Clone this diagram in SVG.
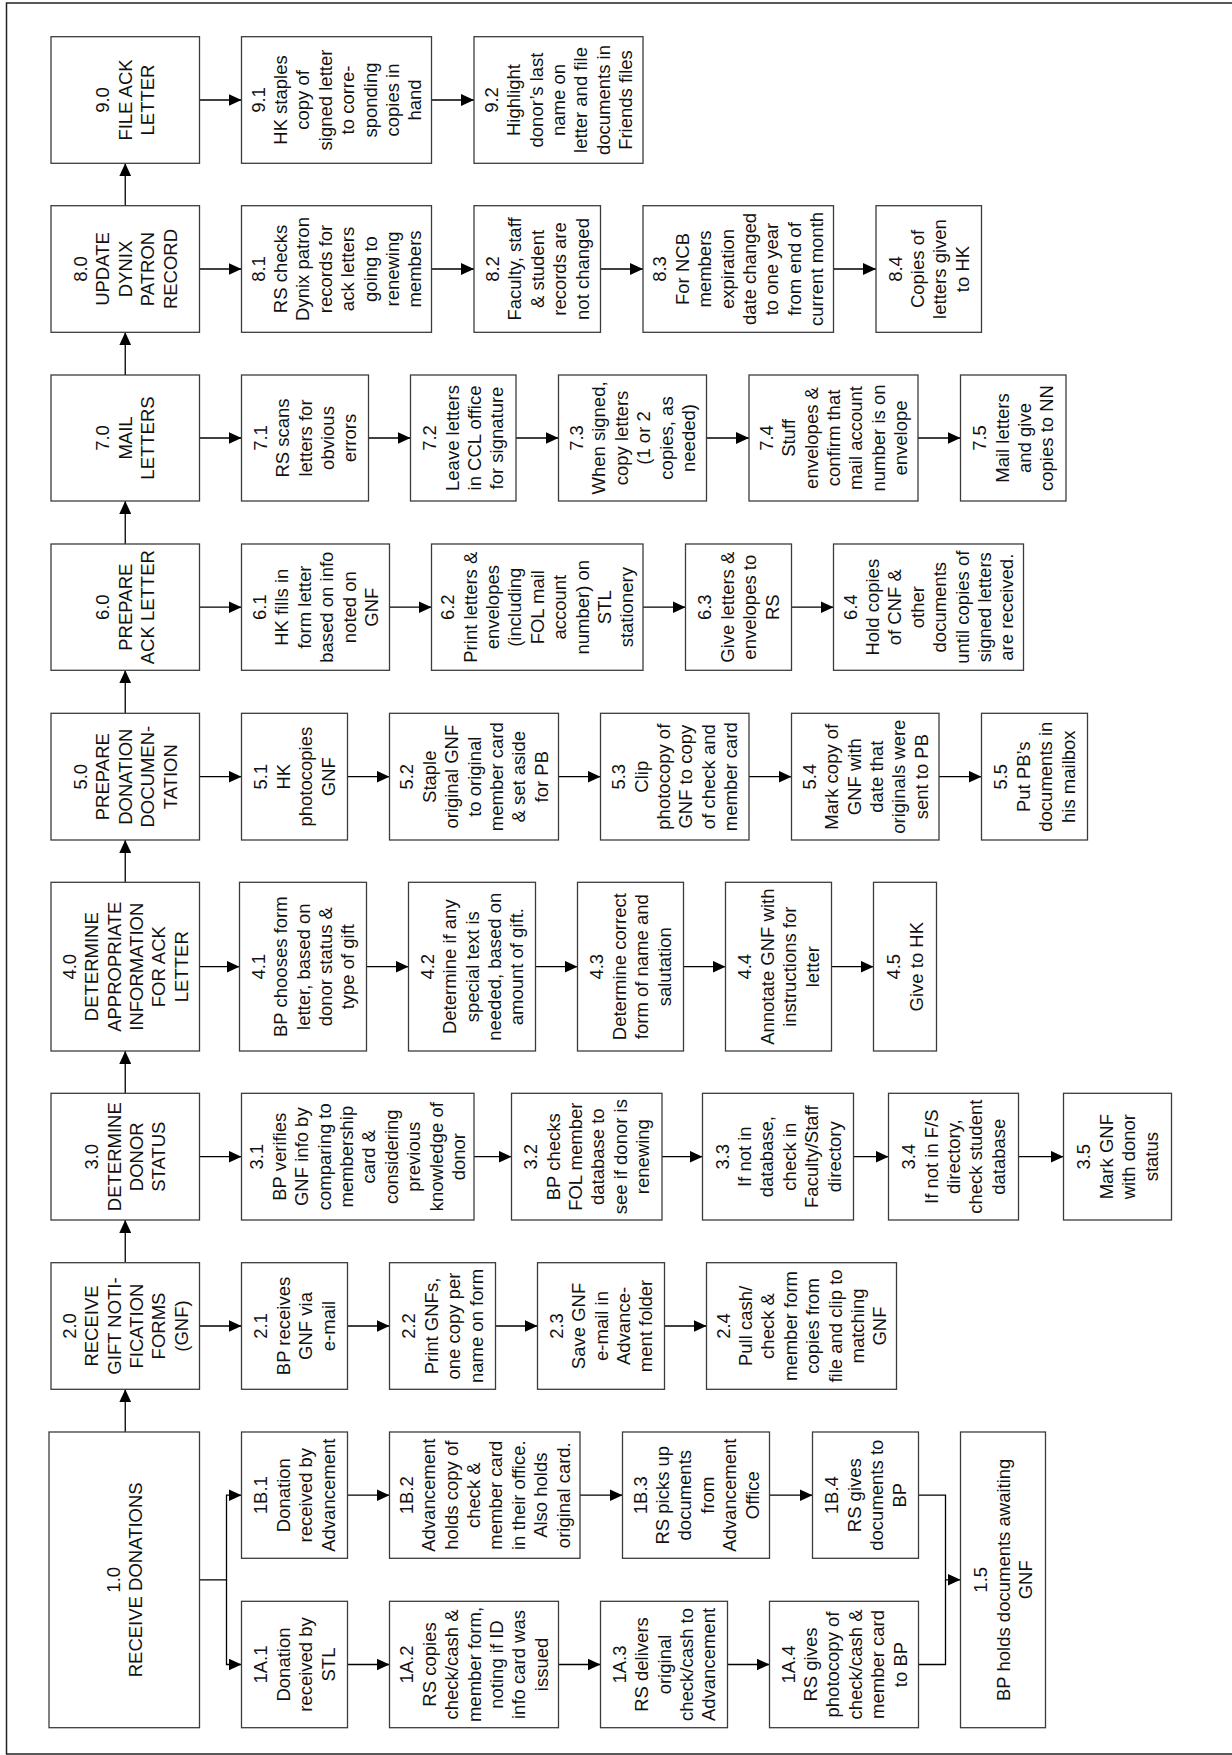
<svg xmlns="http://www.w3.org/2000/svg" width="1232" height="1755" viewBox="0 0 1232 1755">
<style>
.box{fill:#fff;stroke:#3c3c3c;stroke-width:1.3}
.t{font-family:"Liberation Sans",Arial,sans-serif;font-size:18.5px;fill:#111;text-anchor:middle}
.c{fill:none;stroke:#000;stroke-width:1.3}
.a{marker-end:url(#ah)}
</style>
<defs>
<marker id="ah" markerUnits="userSpaceOnUse" markerWidth="13" markerHeight="12" refX="13" refY="6" orient="auto"><path d="M0,0 L13,6 L0,12 z" fill="#000"/></marker>
</defs>
<rect x="6.5" y="3" width="1240" height="1751" fill="#fff" stroke="#222" stroke-width="1.5"/>

<g id="connectors">
<path class="c a" d="M125.25,205.7 V163.3"/>
<path class="c a" d="M125.25,375 V332.3"/>
<path class="c a" d="M125.25,544 V501"/>
<path class="c a" d="M125.25,713.3 V670.3"/>
<path class="c a" d="M125.25,882.3 V840"/>
<path class="c a" d="M125.25,1093.3 V1051"/>
<path class="c a" d="M125.25,1262.7 V1220"/>
<path class="c a" d="M125.25,1432 V1389.3"/>
<!-- row 9 -->
<path class="c a" d="M199.5,100 H241.5"/>
<path class="c a" d="M431.5,100 H474"/>
<!-- row 8 -->
<path class="c a" d="M199.5,269 H241.5"/>
<path class="c a" d="M431.5,269 H474"/>
<path class="c a" d="M600.5,269 H643"/>
<path class="c a" d="M833.5,269 H876"/>
<!-- row 7 -->
<path class="c a" d="M199.5,438 H241.5"/>
<path class="c a" d="M368.5,438 H410.5"/>
<path class="c a" d="M516,438 H558.5"/>
<path class="c a" d="M706.5,438 H749"/>
<path class="c a" d="M918,438 H960.5"/>
<!-- row 6 -->
<path class="c a" d="M199.5,607.2 H241.5"/>
<path class="c a" d="M389.5,607.2 H431.5"/>
<path class="c a" d="M643,607.2 H685.5"/>
<path class="c a" d="M791.5,607.2 H833.5"/>
<!-- row 5 -->
<path class="c a" d="M199.5,776.7 H241.5"/>
<path class="c a" d="M347.5,776.7 H389.5"/>
<path class="c a" d="M558.5,776.7 H600.5"/>
<path class="c a" d="M749,776.7 H791.5"/>
<path class="c a" d="M939,776.7 H981.5"/>
<!-- row 4 -->
<path class="c a" d="M199.5,966.7 H239.5"/>
<path class="c a" d="M366.5,966.7 H408.5"/>
<path class="c a" d="M535.5,966.7 H577.5"/>
<path class="c a" d="M683.5,966.7 H725.5"/>
<path class="c a" d="M831.5,966.7 H873.5"/>
<!-- row 3 -->
<path class="c a" d="M199.5,1156.7 H241.5"/>
<path class="c a" d="M474,1156.7 H511.5"/>
<path class="c a" d="M662,1156.7 H702.5"/>
<path class="c a" d="M853.5,1156.7 H888.5"/>
<path class="c a" d="M1018.5,1156.7 H1063.5"/>
<!-- row 2 -->
<path class="c a" d="M199.5,1326 H241.5"/>
<path class="c a" d="M347.5,1326 H389.5"/>
<path class="c a" d="M495.5,1326 H537.5"/>
<path class="c a" d="M664.5,1326 H706.5"/>
<!-- row 1 -->
<path class="c a" d="M199.5,1579.8 H226.5 V1495.2 H241.5"/>
<path class="c a" d="M226.5,1579.8 V1664.5 H241.5"/>
<path class="c a" d="M347.5,1495.2 H389.5"/>
<path class="c a" d="M580,1495.2 H622.5"/>
<path class="c a" d="M769.5,1495.2 H812.5"/>
<path class="c a" d="M347.5,1664.5 H389.5"/>
<path class="c a" d="M558.5,1664.5 H600.5"/>
<path class="c a" d="M727.5,1664.5 H769.5"/>
<path class="c a" d="M918.5,1495.2 H945.5 V1579.8 H960.5"/>
<path class="c" d="M918.5,1664.5 H945.5 V1579.8"/>
</g>

<!-- Row 9 -->
<g id="n9_0"><rect class="box" x="51" y="36.7" width="148.5" height="126.6"/>
<text class="t" transform="translate(125.25,100) rotate(-90)"><tspan x="0" y="-15.9">9.0</tspan><tspan x="0" dy="22.4">FILE ACK</tspan><tspan x="0" dy="22.4">LETTER</tspan></text></g>
<g id="n9_1"><rect class="box" x="241.5" y="36.7" width="190" height="126.6"/>
<text class="t" transform="translate(336.5,100) rotate(-90)"><tspan x="0" y="-71.9">9.1</tspan><tspan x="0" dy="22.4">HK staples</tspan><tspan x="0" dy="22.4">copy of</tspan><tspan x="0" dy="22.4">signed letter</tspan><tspan x="0" dy="22.4">to corre-</tspan><tspan x="0" dy="22.4">sponding</tspan><tspan x="0" dy="22.4">copies in</tspan><tspan x="0" dy="22.4">hand</tspan></text></g>
<g id="n9_2"><rect class="box" x="474" y="36.7" width="169" height="126.6"/>
<text class="t" transform="translate(558.5,100) rotate(-90)"><tspan x="0" y="-60.7">9.2</tspan><tspan x="0" dy="22.4">Highlight</tspan><tspan x="0" dy="22.4">donor’s last</tspan><tspan x="0" dy="22.4">name on</tspan><tspan x="0" dy="22.4">letter and file</tspan><tspan x="0" dy="22.4">documents in</tspan><tspan x="0" dy="22.4">Friends files</tspan></text></g>

<!-- Row 8 -->
<g id="n8_0"><rect class="box" x="51" y="205.7" width="148.5" height="126.6"/>
<text class="t" transform="translate(125.25,269) rotate(-90)"><tspan x="0" y="-38.3">8.0</tspan><tspan x="0" dy="22.4">UPDATE</tspan><tspan x="0" dy="22.4">DYNIX</tspan><tspan x="0" dy="22.4">PATRON</tspan><tspan x="0" dy="22.4">RECORD</tspan></text></g>
<g id="n8_1"><rect class="box" x="241.5" y="205.7" width="190" height="126.6"/>
<text class="t" transform="translate(336.5,269) rotate(-90)"><tspan x="0" y="-71.9">8.1</tspan><tspan x="0" dy="22.4">RS checks</tspan><tspan x="0" dy="22.4">Dynix patron</tspan><tspan x="0" dy="22.4">records for</tspan><tspan x="0" dy="22.4">ack letters</tspan><tspan x="0" dy="22.4">going to</tspan><tspan x="0" dy="22.4">renewing</tspan><tspan x="0" dy="22.4">members</tspan></text></g>
<g id="n8_2"><rect class="box" x="474" y="205.7" width="126.5" height="126.6"/>
<text class="t" transform="translate(537.25,269) rotate(-90)"><tspan x="0" y="-38.3">8.2</tspan><tspan x="0" dy="22.4">Faculty, staff</tspan><tspan x="0" dy="22.4">&amp; student</tspan><tspan x="0" dy="22.4">records are</tspan><tspan x="0" dy="22.4">not changed</tspan></text></g>
<g id="n8_3"><rect class="box" x="643" y="205.7" width="190.5" height="126.6"/>
<text class="t" transform="translate(738.25,269) rotate(-90)"><tspan x="0" y="-71.9">8.3</tspan><tspan x="0" dy="22.4">For NCB</tspan><tspan x="0" dy="22.4">members</tspan><tspan x="0" dy="22.4">expiration</tspan><tspan x="0" dy="22.4">date changed</tspan><tspan x="0" dy="22.4">to one year</tspan><tspan x="0" dy="22.4">from end of</tspan><tspan x="0" dy="22.4">current month</tspan></text></g>
<g id="n8_4"><rect class="box" x="876" y="205.7" width="105.5" height="126.6"/>
<text class="t" transform="translate(928.75,269) rotate(-90)"><tspan x="0" y="-27.1">8.4</tspan><tspan x="0" dy="22.4">Copies of</tspan><tspan x="0" dy="22.4">letters given</tspan><tspan x="0" dy="22.4">to HK</tspan></text></g>

<!-- Row 7 -->
<g id="n7_0"><rect class="box" x="51" y="375" width="148.5" height="126"/>
<text class="t" transform="translate(125.25,438) rotate(-90)"><tspan x="0" y="-15.9">7.0</tspan><tspan x="0" dy="22.4">MAIL</tspan><tspan x="0" dy="22.4">LETTERS</tspan></text></g>
<g id="n7_1"><rect class="box" x="241.5" y="375" width="127" height="126"/>
<text class="t" transform="translate(305,438) rotate(-90)"><tspan x="0" y="-38.3">7.1</tspan><tspan x="0" dy="22.4">RS scans</tspan><tspan x="0" dy="22.4">letters for</tspan><tspan x="0" dy="22.4">obvious</tspan><tspan x="0" dy="22.4">errors</tspan></text></g>
<g id="n7_2"><rect class="box" x="410.5" y="375" width="105.5" height="126"/>
<text class="t" transform="translate(463.25,438) rotate(-90)"><tspan x="0" y="-27.1">7.2</tspan><tspan x="0" dy="22.4">Leave letters</tspan><tspan x="0" dy="22.4">in CCL office</tspan><tspan x="0" dy="22.4">for signature</tspan></text></g>
<g id="n7_3"><rect class="box" x="558.5" y="375" width="148" height="126"/>
<text class="t" transform="translate(632.5,438) rotate(-90)"><tspan x="0" y="-49.5">7.3</tspan><tspan x="0" dy="22.4">When signed,</tspan><tspan x="0" dy="22.4">copy letters</tspan><tspan x="0" dy="22.4">(1 or 2</tspan><tspan x="0" dy="22.4">copies, as</tspan><tspan x="0" dy="22.4">needed)</tspan></text></g>
<g id="n7_4"><rect class="box" x="749" y="375" width="169" height="126"/>
<text class="t" transform="translate(833.5,438) rotate(-90)"><tspan x="0" y="-60.7">7.4</tspan><tspan x="0" dy="22.4">Stuff</tspan><tspan x="0" dy="22.4">envelopes &amp;</tspan><tspan x="0" dy="22.4">confirm that</tspan><tspan x="0" dy="22.4">mail account</tspan><tspan x="0" dy="22.4">number is on</tspan><tspan x="0" dy="22.4">envelope</tspan></text></g>
<g id="n7_5"><rect class="box" x="960.5" y="375" width="105.5" height="126"/>
<text class="t" transform="translate(1013.25,438) rotate(-90)"><tspan x="0" y="-27.1">7.5</tspan><tspan x="0" dy="22.4">Mail letters</tspan><tspan x="0" dy="22.4">and give</tspan><tspan x="0" dy="22.4">copies to NN</tspan></text></g>

<!-- Row 6 -->
<g id="n6_0"><rect class="box" x="51" y="544" width="148.5" height="126.3"/>
<text class="t" transform="translate(125.25,607.2) rotate(-90)"><tspan x="0" y="-15.9">6.0</tspan><tspan x="0" dy="22.4">PREPARE</tspan><tspan x="0" dy="22.4">ACK LETTER</tspan></text></g>
<g id="n6_1"><rect class="box" x="241.5" y="544" width="148" height="126.3"/>
<text class="t" transform="translate(315.5,607.2) rotate(-90)"><tspan x="0" y="-49.5">6.1</tspan><tspan x="0" dy="22.4">HK fills in</tspan><tspan x="0" dy="22.4">form letter</tspan><tspan x="0" dy="22.4">based on info</tspan><tspan x="0" dy="22.4">noted on</tspan><tspan x="0" dy="22.4">GNF</tspan></text></g>
<g id="n6_2"><rect class="box" x="431.5" y="544" width="211.5" height="126.3"/>
<text class="t" transform="translate(537.25,607.2) rotate(-90)"><tspan x="0" y="-83.1">6.2</tspan><tspan x="0" dy="22.4">Print letters &amp;</tspan><tspan x="0" dy="22.4">envelopes</tspan><tspan x="0" dy="22.4">(including</tspan><tspan x="0" dy="22.4">FOL mail</tspan><tspan x="0" dy="22.4">account</tspan><tspan x="0" dy="22.4">number) on</tspan><tspan x="0" dy="22.4">STL</tspan><tspan x="0" dy="22.4">stationery</tspan></text></g>
<g id="n6_3"><rect class="box" x="685.5" y="544" width="106" height="126.3"/>
<text class="t" transform="translate(738.5,607.2) rotate(-90)"><tspan x="0" y="-27.1">6.3</tspan><tspan x="0" dy="22.4">Give letters &amp;</tspan><tspan x="0" dy="22.4">envelopes to</tspan><tspan x="0" dy="22.4">RS</tspan></text></g>
<g id="n6_4"><rect class="box" x="833.5" y="544" width="190" height="126.3"/>
<text class="t" transform="translate(928.5,607.2) rotate(-90)"><tspan x="0" y="-71.9">6.4</tspan><tspan x="0" dy="22.4">Hold copies</tspan><tspan x="0" dy="22.4">of CNF &amp;</tspan><tspan x="0" dy="22.4">other</tspan><tspan x="0" dy="22.4">documents</tspan><tspan x="0" dy="22.4">until copies of</tspan><tspan x="0" dy="22.4">signed letters</tspan><tspan x="0" dy="22.4">are received.</tspan></text></g>

<!-- Row 5 -->
<g id="n5_0"><rect class="box" x="51" y="713.3" width="148.5" height="126.7"/>
<text class="t" transform="translate(125.25,776.7) rotate(-90)"><tspan x="0" y="-38.3">5.0</tspan><tspan x="0" dy="22.4">PREPARE</tspan><tspan x="0" dy="22.4">DONATION</tspan><tspan x="0" dy="22.4">DOCUMEN-</tspan><tspan x="0" dy="22.4">TATION</tspan></text></g>
<g id="n5_1"><rect class="box" x="241.5" y="713.3" width="106" height="126.7"/>
<text class="t" transform="translate(294.5,776.7) rotate(-90)"><tspan x="0" y="-27.1">5.1</tspan><tspan x="0" dy="22.4">HK</tspan><tspan x="0" dy="22.4">photocopies</tspan><tspan x="0" dy="22.4">GNF</tspan></text></g>
<g id="n5_2"><rect class="box" x="389.5" y="713.3" width="169" height="126.7"/>
<text class="t" transform="translate(474,776.7) rotate(-90)"><tspan x="0" y="-60.7">5.2</tspan><tspan x="0" dy="22.4">Staple</tspan><tspan x="0" dy="22.4">original GNF</tspan><tspan x="0" dy="22.4">to original</tspan><tspan x="0" dy="22.4">member card</tspan><tspan x="0" dy="22.4">&amp; set aside</tspan><tspan x="0" dy="22.4">for PB</tspan></text></g>
<g id="n5_3"><rect class="box" x="600.5" y="713.3" width="148.5" height="126.7"/>
<text class="t" transform="translate(674.75,776.7) rotate(-90)"><tspan x="0" y="-49.5">5.3</tspan><tspan x="0" dy="22.4">Clip</tspan><tspan x="0" dy="22.4">photocopy of</tspan><tspan x="0" dy="22.4">GNF to copy</tspan><tspan x="0" dy="22.4">of check and</tspan><tspan x="0" dy="22.4">member card</tspan></text></g>
<g id="n5_4"><rect class="box" x="791.5" y="713.3" width="147.5" height="126.7"/>
<text class="t" transform="translate(865.25,776.7) rotate(-90)"><tspan x="0" y="-49.5">5.4</tspan><tspan x="0" dy="22.4">Mark copy of</tspan><tspan x="0" dy="22.4">GNF with</tspan><tspan x="0" dy="22.4">date that</tspan><tspan x="0" dy="22.4">originals were</tspan><tspan x="0" dy="22.4">sent to PB</tspan></text></g>
<g id="n5_5"><rect class="box" x="981.5" y="713.3" width="106" height="126.7"/>
<text class="t" transform="translate(1034.5,776.7) rotate(-90)"><tspan x="0" y="-27.1">5.5</tspan><tspan x="0" dy="22.4">Put PB’s</tspan><tspan x="0" dy="22.4">documents in</tspan><tspan x="0" dy="22.4">his mailbox</tspan></text></g>

<!-- Row 4 -->
<g id="n4_0"><rect class="box" x="51" y="882.3" width="148.5" height="168.7"/>
<text class="t" transform="translate(125.25,966.7) rotate(-90)"><tspan x="0" y="-49.5">4.0</tspan><tspan x="0" dy="22.4">DETERMINE</tspan><tspan x="0" dy="22.4">APPROPRIATE</tspan><tspan x="0" dy="22.4">INFORMATION</tspan><tspan x="0" dy="22.4">FOR ACK</tspan><tspan x="0" dy="22.4">LETTER</tspan></text></g>
<g id="n4_1"><rect class="box" x="239.5" y="882.3" width="127" height="168.7"/>
<text class="t" transform="translate(303,966.7) rotate(-90)"><tspan x="0" y="-38.3">4.1</tspan><tspan x="0" dy="22.4">BP chooses form</tspan><tspan x="0" dy="22.4">letter, based on</tspan><tspan x="0" dy="22.4">donor status &amp;</tspan><tspan x="0" dy="22.4">type of gift</tspan></text></g>
<g id="n4_2"><rect class="box" x="408.5" y="882.3" width="127" height="168.7"/>
<text class="t" transform="translate(472,966.7) rotate(-90)"><tspan x="0" y="-38.3">4.2</tspan><tspan x="0" dy="22.4">Determine if any</tspan><tspan x="0" dy="22.4">special text is</tspan><tspan x="0" dy="22.4">needed, based on</tspan><tspan x="0" dy="22.4">amount of gift.</tspan></text></g>
<g id="n4_3"><rect class="box" x="577.5" y="882.3" width="106" height="168.7"/>
<text class="t" transform="translate(630.5,966.7) rotate(-90)"><tspan x="0" y="-27.1">4.3</tspan><tspan x="0" dy="22.4">Determine correct</tspan><tspan x="0" dy="22.4">form of name and</tspan><tspan x="0" dy="22.4">salutation</tspan></text></g>
<g id="n4_4"><rect class="box" x="725.5" y="882.3" width="106" height="168.7"/>
<text class="t" transform="translate(778.5,966.7) rotate(-90)"><tspan x="0" y="-27.1">4.4</tspan><tspan x="0" dy="22.4">Annotate GNF with</tspan><tspan x="0" dy="22.4">instructions for</tspan><tspan x="0" dy="22.4">letter</tspan></text></g>
<g id="n4_5"><rect class="box" x="873.5" y="882.3" width="63" height="168.7"/>
<text class="t" transform="translate(905,966.7) rotate(-90)"><tspan x="0" y="-4.7">4.5</tspan><tspan x="0" dy="22.4">Give to HK</tspan></text></g>

<!-- Row 3 -->
<g id="n3_0"><rect class="box" x="51" y="1093.3" width="148.5" height="126.7"/>
<text class="t" transform="translate(125.25,1156.7) rotate(-90)"><tspan x="0" y="-27.1">3.0</tspan><tspan x="0" dy="22.4">DETERMINE</tspan><tspan x="0" dy="22.4">DONOR</tspan><tspan x="0" dy="22.4">STATUS</tspan></text></g>
<g id="n3_1"><rect class="box" x="241.5" y="1093.3" width="232.5" height="126.7"/>
<text class="t" transform="translate(357.75,1156.7) rotate(-90)"><tspan x="0" y="-94.3">3.1</tspan><tspan x="0" dy="22.4">BP verifies</tspan><tspan x="0" dy="22.4">GNF info by</tspan><tspan x="0" dy="22.4">comparing to</tspan><tspan x="0" dy="22.4">membership</tspan><tspan x="0" dy="22.4">card &amp;</tspan><tspan x="0" dy="22.4">considering</tspan><tspan x="0" dy="22.4">previous</tspan><tspan x="0" dy="22.4">knowledge of</tspan><tspan x="0" dy="22.4">donor</tspan></text></g>
<g id="n3_2"><rect class="box" x="511.5" y="1093.3" width="150.5" height="126.7"/>
<text class="t" transform="translate(586.75,1156.7) rotate(-90)"><tspan x="0" y="-49.5">3.2</tspan><tspan x="0" dy="22.4">BP checks</tspan><tspan x="0" dy="22.4">FOL member</tspan><tspan x="0" dy="22.4">database to</tspan><tspan x="0" dy="22.4">see if donor is</tspan><tspan x="0" dy="22.4">renewing</tspan></text></g>
<g id="n3_3"><rect class="box" x="702.5" y="1093.3" width="151" height="126.7"/>
<text class="t" transform="translate(778,1156.7) rotate(-90)"><tspan x="0" y="-49.5">3.3</tspan><tspan x="0" dy="22.4">If not in</tspan><tspan x="0" dy="22.4">database,</tspan><tspan x="0" dy="22.4">check in</tspan><tspan x="0" dy="22.4">Faculty/Staff</tspan><tspan x="0" dy="22.4">directory</tspan></text></g>
<g id="n3_4"><rect class="box" x="888.5" y="1093.3" width="130" height="126.7"/>
<text class="t" transform="translate(953.5,1156.7) rotate(-90)"><tspan x="0" y="-38.3">3.4</tspan><tspan x="0" dy="22.4">If not in F/S</tspan><tspan x="0" dy="22.4">directory,</tspan><tspan x="0" dy="22.4">check student</tspan><tspan x="0" dy="22.4">database</tspan></text></g>
<g id="n3_5"><rect class="box" x="1063.5" y="1093.3" width="108" height="126.7"/>
<text class="t" transform="translate(1117.5,1156.7) rotate(-90)"><tspan x="0" y="-27.1">3.5</tspan><tspan x="0" dy="22.4">Mark GNF</tspan><tspan x="0" dy="22.4">with donor</tspan><tspan x="0" dy="22.4">status</tspan></text></g>

<!-- Row 2 -->
<g id="n2_0"><rect class="box" x="51" y="1262.7" width="148.5" height="126.6"/>
<text class="t" transform="translate(125.25,1326) rotate(-90)"><tspan x="0" y="-49.5">2.0</tspan><tspan x="0" dy="22.4">RECEIVE</tspan><tspan x="0" dy="22.4">GIFT NOTI-</tspan><tspan x="0" dy="22.4">FICATION</tspan><tspan x="0" dy="22.4">FORMS</tspan><tspan x="0" dy="22.4">(GNF)</tspan></text></g>
<g id="n2_1"><rect class="box" x="241.5" y="1262.7" width="106" height="126.6"/>
<text class="t" transform="translate(294.5,1326) rotate(-90)"><tspan x="0" y="-27.1">2.1</tspan><tspan x="0" dy="22.4">BP receives</tspan><tspan x="0" dy="22.4">GNF via</tspan><tspan x="0" dy="22.4">e-mail</tspan></text></g>
<g id="n2_2"><rect class="box" x="389.5" y="1262.7" width="106" height="126.6"/>
<text class="t" transform="translate(442.5,1326) rotate(-90)"><tspan x="0" y="-27.1">2.2</tspan><tspan x="0" dy="22.4">Print GNFs,</tspan><tspan x="0" dy="22.4">one copy per</tspan><tspan x="0" dy="22.4">name on form</tspan></text></g>
<g id="n2_3"><rect class="box" x="537.5" y="1262.7" width="127" height="126.6"/>
<text class="t" transform="translate(601,1326) rotate(-90)"><tspan x="0" y="-38.3">2.3</tspan><tspan x="0" dy="22.4">Save GNF</tspan><tspan x="0" dy="22.4">e-mail in</tspan><tspan x="0" dy="22.4">Advance-</tspan><tspan x="0" dy="22.4">ment folder</tspan></text></g>
<g id="n2_4"><rect class="box" x="706.5" y="1262.7" width="190" height="126.6"/>
<text class="t" transform="translate(801.5,1326) rotate(-90)"><tspan x="0" y="-71.9">2.4</tspan><tspan x="0" dy="22.4">Pull cash/</tspan><tspan x="0" dy="22.4">check &amp;</tspan><tspan x="0" dy="22.4">member form</tspan><tspan x="0" dy="22.4">copies from</tspan><tspan x="0" dy="22.4">file and clip to</tspan><tspan x="0" dy="22.4">matching</tspan><tspan x="0" dy="22.4">GNF</tspan></text></g>

<!-- Row 1 -->
<g id="n1_0"><rect class="box" x="49" y="1432" width="150.5" height="295.7"/>
<text class="t" transform="translate(124.25,1579.8) rotate(-90)"><tspan x="0" y="-4.7">1.0</tspan><tspan x="0" dy="22.4">RECEIVE DONATIONS</tspan></text></g>
<g id="n1B_1"><rect class="box" x="241.5" y="1432" width="106" height="126.3"/>
<text class="t" transform="translate(294.5,1495.2) rotate(-90)"><tspan x="0" y="-27.1">1B.1</tspan><tspan x="0" dy="22.4">Donation</tspan><tspan x="0" dy="22.4">received by</tspan><tspan x="0" dy="22.4">Advancement</tspan></text></g>
<g id="n1B_2"><rect class="box" x="389.5" y="1432" width="190.5" height="126.3"/>
<text class="t" transform="translate(484.75,1495.2) rotate(-90)"><tspan x="0" y="-71.9">1B.2</tspan><tspan x="0" dy="22.4">Advancement</tspan><tspan x="0" dy="22.4">holds copy of</tspan><tspan x="0" dy="22.4">check &amp;</tspan><tspan x="0" dy="22.4">member card</tspan><tspan x="0" dy="22.4">in their office.</tspan><tspan x="0" dy="22.4">Also holds</tspan><tspan x="0" dy="22.4">original card.</tspan></text></g>
<g id="n1B_3"><rect class="box" x="622.5" y="1432" width="147" height="126.3"/>
<text class="t" transform="translate(696,1495.2) rotate(-90)"><tspan x="0" y="-49.5">1B.3</tspan><tspan x="0" dy="22.4">RS picks up</tspan><tspan x="0" dy="22.4">documents</tspan><tspan x="0" dy="22.4">from</tspan><tspan x="0" dy="22.4">Advancement</tspan><tspan x="0" dy="22.4">Office</tspan></text></g>
<g id="n1B_4"><rect class="box" x="812.5" y="1432" width="106" height="126.3"/>
<text class="t" transform="translate(865.5,1495.2) rotate(-90)"><tspan x="0" y="-27.1">1B.4</tspan><tspan x="0" dy="22.4">RS gives</tspan><tspan x="0" dy="22.4">documents to</tspan><tspan x="0" dy="22.4">BP</tspan></text></g>
<g id="n1A_1"><rect class="box" x="241.5" y="1601.3" width="106" height="126.4"/>
<text class="t" transform="translate(294.5,1664.5) rotate(-90)"><tspan x="0" y="-27.1">1A.1</tspan><tspan x="0" dy="22.4">Donation</tspan><tspan x="0" dy="22.4">received by</tspan><tspan x="0" dy="22.4">STL</tspan></text></g>
<g id="n1A_2"><rect class="box" x="389.5" y="1601.3" width="169" height="126.4"/>
<text class="t" transform="translate(474,1664.5) rotate(-90)"><tspan x="0" y="-60.7">1A.2</tspan><tspan x="0" dy="22.4">RS copies</tspan><tspan x="0" dy="22.4">check/cash &amp;</tspan><tspan x="0" dy="22.4">member form,</tspan><tspan x="0" dy="22.4">noting if ID</tspan><tspan x="0" dy="22.4">info card was</tspan><tspan x="0" dy="22.4">issued</tspan></text></g>
<g id="n1A_3"><rect class="box" x="600.5" y="1601.3" width="127" height="126.4"/>
<text class="t" transform="translate(664,1664.5) rotate(-90)"><tspan x="0" y="-38.3">1A.3</tspan><tspan x="0" dy="22.4">RS delivers</tspan><tspan x="0" dy="22.4">original</tspan><tspan x="0" dy="22.4">check/cash to</tspan><tspan x="0" dy="22.4">Advancement</tspan></text></g>
<g id="n1A_4"><rect class="box" x="769.5" y="1601.3" width="149" height="126.4"/>
<text class="t" transform="translate(844,1664.5) rotate(-90)"><tspan x="0" y="-49.5">1A.4</tspan><tspan x="0" dy="22.4">RS gives</tspan><tspan x="0" dy="22.4">photocopy of</tspan><tspan x="0" dy="22.4">check/cash &amp;</tspan><tspan x="0" dy="22.4">member card</tspan><tspan x="0" dy="22.4">to BP</tspan></text></g>
<g id="n1_5"><rect class="box" x="960.5" y="1432" width="85" height="295.7"/>
<text class="t" transform="translate(1003,1579.8) rotate(-90)"><tspan x="0" y="-15.9">1.5</tspan><tspan x="0" dy="22.4">BP holds documents awaiting</tspan><tspan x="0" dy="22.4">GNF</tspan></text></g>
</svg>
